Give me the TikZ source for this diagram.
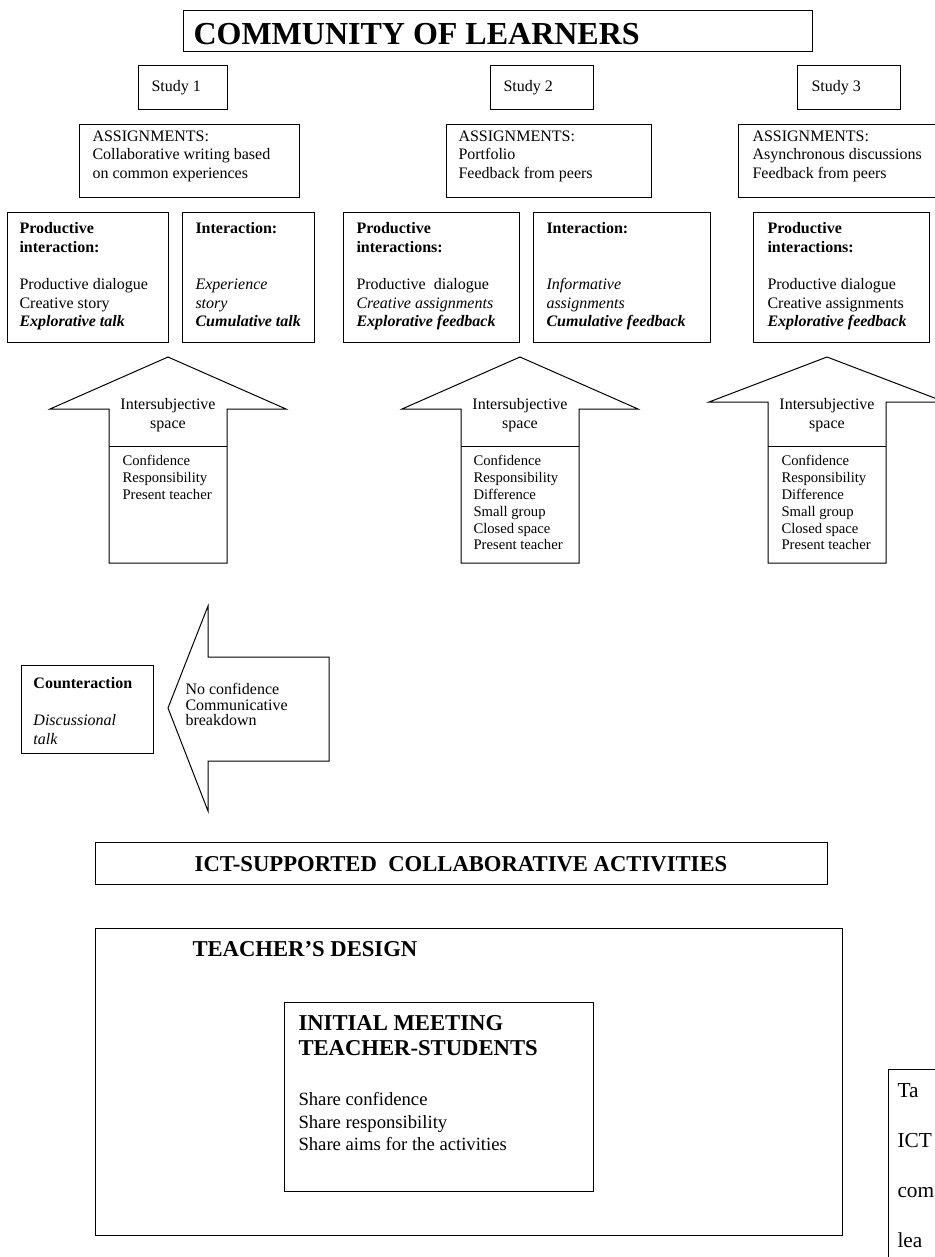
\documentclass[tikz,border=0pt]{standalone}
\usepackage{fontspec}
\setmainfont{Liberation Serif}

\begin{document}
\begin{tikzpicture}[x=0.75pt, y=-0.75pt, line width=0.75pt]
  \tikzstyle{txt}=[anchor=north west, align=left, inner sep=0pt, font=\fontsize{12}{14}\selectfont]
  \tikzstyle{small}=[txt, font=\fontsize{11}{12.6}\selectfont]
  \tikzstyle{big}=[txt, font=\fontsize{17}{18.75}\selectfont\bfseries]
  \tikzstyle{head}=[anchor=north, align=center, inner sep=0pt, font=\fontsize{12}{14}\selectfont]

  \useasboundingbox (0,0) rectangle (935,1257);

  % title and studies
  \draw (183,10) rectangle (812,51);
  \node[txt, font=\fontsize{24}{28}\selectfont\bfseries] (title) at (193,23) {COMMUNITY OF LEARNERS};

  \draw (138,65) rectangle (227,109);
  \draw (490,65) rectangle (593,109);
  \draw (797,65) rectangle (900,109);
  \node[txt] (s1) at (151,80) {Study 1};
  \node[txt] (s2) at (503,80) {Study 2};
  \node[txt] (s3) at (811,80) {Study 3};

  % assignments
  \draw (79,124) rectangle (299,197);
  \draw (446,124) rectangle (651,197);
  \draw (738,124) rectangle (945,197);
  \node[txt] (a1) at (92,130) {ASSIGNMENTS:\\ Collaborative writing based\\ on common experiences};
  \node[txt] (a2) at (458,130) {ASSIGNMENTS:\\ Portfolio\\ Feedback from peers};
  \node[txt] (a3) at (752,130) {ASSIGNMENTS:\\ Asynchronous discussions\\ Feedback from peers};

  % interactions
  \draw (7,212) rectangle (168,342);
  \draw (182,212) rectangle (314,342);
  \draw (343,212) rectangle (519,342);
  \draw (533,212) rectangle (710,342);
  \draw (753,212) rectangle (929,342);
  \node[txt] (p1) at (19,222) {\textbf{Productive}\\ \textbf{interaction:}\\[14pt] Productive dialogue\\ Creative story\\ \textbf{\textit{Explorative talk}}};
  \node[txt] (i1) at (195,222) {\textbf{Interaction:}\\[28pt] \textit{Experience}\\ \textit{story}\\ \textbf{\textit{Cumulative talk}}};
  \node[txt] (p2) at (356,222) {\textbf{Productive}\\ \textbf{interactions:}\\[14pt] Productive\ \ dialogue\\ \textit{Creative assignments}\\ \textbf{\textit{Explorative feedback}}};
  \node[txt] (i2) at (546,222) {\textbf{Interaction:}\\[28pt] \textit{Informative}\\ \textit{assignments}\\ \textbf{\textit{Cumulative feedback}}};
  \node[txt] (p3) at (767,222) {\textbf{Productive}\\ \textbf{interactions:}\\[14pt] Productive dialogue\\ Creative assignments\\ \textbf{\textit{Explorative feedback}}};

  % intersubjective space arrows
  \foreach \name/\cx/\hy in {1/168/409, 2/520/409, 3/827/402} {
    \draw (\cx-118,\hy) -- (\cx,357) -- (\cx+118,\hy) -- (\cx+59,\hy) -- (\cx+59,563)
      -- (\cx-59,563) -- (\cx-59,\hy) -- cycle;
    \draw (\cx-59,446) -- (\cx+59,446);
    \node[head] (h-\name) at (\cx,398) {Intersubjective\\ space};
  }
  \node[small] (l-1) at (122,455) {Confidence\\ Responsibility\\ Present teacher};
  \node[small] (l-2) at (473,455) {Confidence\\ Responsibility\\ Difference\\ Small group\\ Closed space\\ Present teacher};
  \node[small] (l-3) at (781,455) {Confidence\\ Responsibility\\ Difference\\ Small group\\ Closed space\\ Present teacher};

  % counteraction
  \draw (168,708) -- (208,606) -- (208,657) -- (329,657) -- (329,761) -- (208,761) -- (208,811) -- cycle;
  \node[txt, font=\fontsize{12}{11.5}\selectfont] (nc) at (185,683) {No confidence\\ Communicative\\ breakdown};
  \draw (21,665) rectangle (153,753);
  \node[txt] (ca) at (33,677) {\textbf{Counteraction}\\[14pt] \textit{Discussional}\\ \textit{talk}};

  % activities and design
  \draw (95,842) rectangle (827,884);
  \node[big, anchor=center] (ict) at (461,864) {ICT-SUPPORTED\ \ COLLABORATIVE ACTIVITIES};

  \draw (95,928) rectangle (842,1235);
  \node[big] (td) at (192,941) {TEACHER'S DESIGN};
  \draw (284,1002) rectangle (593,1191);
  \node[big] (im) at (298,1015) {INITIAL MEETING\\ TEACHER-STUDENTS};
  \node[txt, font=\fontsize{14}{16.9}\selectfont] (sh) at (298,1092) {Share confidence\\ Share responsibility\\ Share aims for the activities};

  % caption (cut by the page edge)
  \draw (888,1270) -- (888,1069) -- (950,1069);
  \node[txt, font=\fontsize{16}{37.5}\selectfont] (cap) at (897,1083) {Ta\\ ICT\\ com\\ lea};
\end{tikzpicture}
\end{document}
